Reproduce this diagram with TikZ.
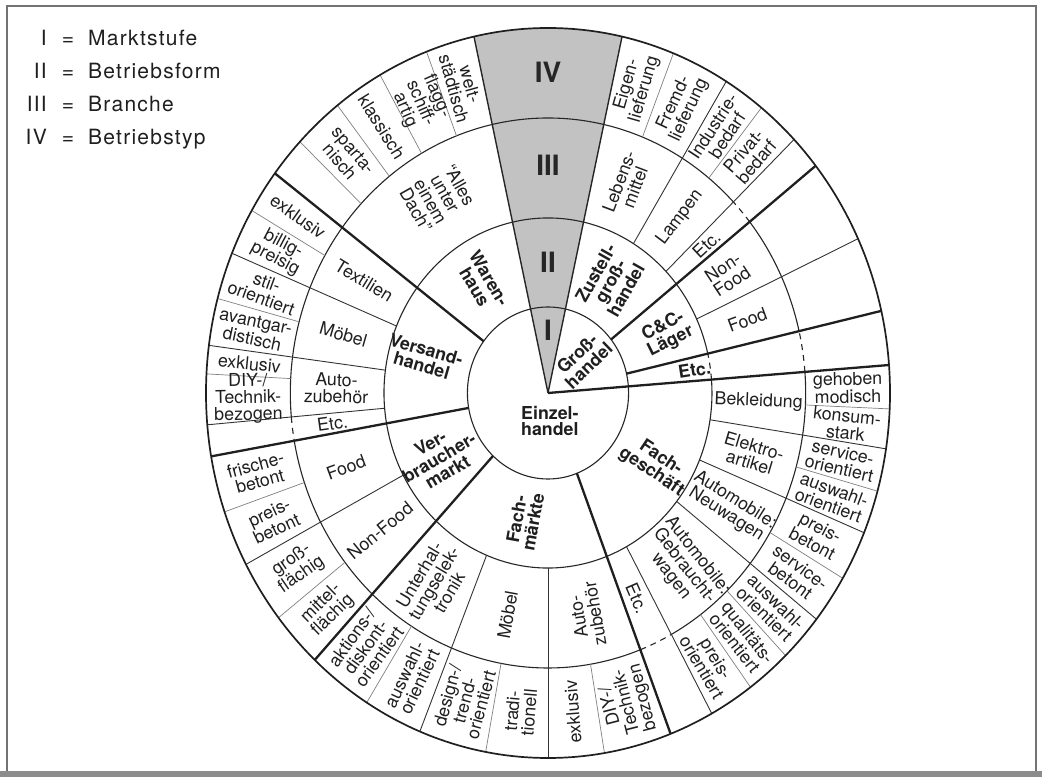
\documentclass[tikz,border=0pt]{standalone}
\usepackage{fontspec}
\setmainfont{TeX Gyre Heros}
\newcounter{lblno}
% label reading towards the centre / away from the centre, placed at (angle:radius)
\newcommand\inlab[4][lab]{%
  \pgfmathsetmacro\labrot{atan2(sin(#2),0.937*cos(#2))+180}%
  \stepcounter{lblno}%
  \node[#1,rotate=\labrot] (lbl\arabic{lblno}) at (#2:#3) {#4};}
\newcommand\outlab[4][lab]{%
  \pgfmathsetmacro\labrot{atan2(sin(#2),0.937*cos(#2))}%
  \stepcounter{lblno}%
  \node[#1,rotate=\labrot] (lbl\arabic{lblno}) at (#2:#3) {#4};}
% radial divider from radius #3 to radius #4 at angle #2
\newcommand\spoke[4][]{\draw[#1] (#2:#3) -- (#2:#4);}
% ring arc from angle #2 to #3 at radius #4
\newcommand\ringarc[4][]{\draw[#1] (#2:#4) arc[start angle=#2, end angle=#3, radius=#4];}
\begin{document}
\begin{tikzpicture}[x=1pt,y=1pt,
  lab/.style={align=center, font=\fontsize{17.8}{16.8}\selectfont, inner sep=0pt, text=black!88},
  blab/.style={lab, font=\fontsize{17.8}{16.8}\selectfont\bfseries},
  numlab/.style={inner sep=0pt, font=\fontsize{28}{28}\selectfont\bfseries, text=black!85},
  leg/.style={inner sep=0pt, font=\fontsize{21}{23}\selectfont\addfontfeatures{LetterSpace=6}, text=black!88},
  ringline/.style={line width=1.1pt, draw=black!85},
  dashline/.style={ringline, dash pattern=on 6pt off 5pt},
  thickline/.style={line width=2.3pt, draw=black!88},
  wedgeline/.style={line width=1.4pt, draw=black!85},
  midline/.style={line width=0.9pt, draw=black!80},
  thinline/.style={line width=0.7pt, draw=black!50},
  outerline/.style={line width=1.7pt, draw=black!88}]
\useasboundingbox (0,0) rectangle (1042,777);
\fill[white] (0,0) rectangle (1042,777);
% frame and shadow band
\fill[black!45] (0,0) rectangle (1042,6.5);
\draw[black!55, line width=1.3pt] (7,6.5) -- (7,771) -- (1036,771) -- (1036,6.5);

% legend
\node[leg, anchor=base east] (r1) at (47,731) {I};
\node[leg, anchor=base east] (r2) at (47,698) {II};
\node[leg, anchor=base east] (r3) at (47,665) {III};
\node[leg, anchor=base east] (r4) at (47,632) {IV};
\node[leg, anchor=base] (e1) at (68,731) {=};
\node[leg, anchor=base] (e2) at (68,698) {=};
\node[leg, anchor=base] (e3) at (68,665) {=};
\node[leg, anchor=base] (e4) at (68,632) {=};
\node[leg, anchor=base west] (t1) at (88,731) {Marktstufe};
\node[leg, anchor=base west] (t2) at (88,698) {Betriebsform};
\node[leg, anchor=base west] (t3) at (88,665) {Branche};
\node[leg, anchor=base west] (t4) at (88,632) {Betriebstyp};

\begin{scope}[shift={(548,384)}, xscale=0.937]
  % highlighted sector showing the four levels
  \fill[black!24] (0,0) -- (77.5:365) arc[start angle=77.5, end angle=102.5, radius=365] -- cycle;

  % ring boundaries
  \draw[ringline] (0,0) circle[radius=86];
  \ringarc[ringline]{13}{364.4}{175}
  \ringarc[dashline]{4.4}{13}{175}
  \ringarc[ringline]{13}{38.5}{275}
  \ringarc[dashline]{38.5}{44}{275}
  \ringarc[ringline]{44}{185}{275}
  \ringarc[dashline]{185}{190}{275}
  \ringarc[ringline]{190}{291}{275}
  \ringarc[dashline]{291}{298.6}{275}
  \ringarc[ringline]{298.6}{364.4}{275}
  \ringarc[dashline]{4.4}{13}{275}

  % level IV dividers
  \foreach \a in {110.8,119.4,128,136.5,150,165,177,199,218,238,259.5,279.5,
                  357.5,344.4,329.5,306.3,314,68.5,51.4}
    {\spoke[thinline]{\a}{275}{365}}
  % level III dividers
  \foreach \a in {157.5,172.5,185,208,248,270,351.2,337.5,321.7,298.6,58.6,44,25}
    {\spoke[midline]{\a}{175}{365}}
  % level II dividers
  \foreach \a in {143,190,227,291,38.5,13}
    {\spoke[thickline]{\a}{86}{365}}
  % level I divider and highlighted sector edges
  \spoke[thickline]{4.4}{0}{365}
  \spoke[wedgeline]{77.5}{0}{365}
  \spoke[wedgeline]{102.5}{0}{365}

  \draw[outerline] (0,0) circle[radius=365];

  % roman numerals in the highlighted sector
  \node[numlab] (n1) at (0,63) {I};
  \node[numlab] (n2) at (0,131) {II};
  \node[numlab] (n3) at (0,228) {III};
  \node[numlab] (n4) at (0,321) {IV};

  % level I
  \node[blab] (einzel) at (2,-28) {Einzel-\\handel};
  \outlab[blab]{42}{50}{Groß-\\handel}

  % level II
  \inlab[blab]{122.5}{131}{Waren-\\haus}
  \inlab[blab]{165}{137}{Versand-\\handel}
  \inlab[blab]{209}{133}{Ver-\\braucher-\\markt}
  \inlab[blab]{259}{130}{Fach-\\märkte}
  \outlab[blab]{328}{136}{Fach-\\geschäft}
  \outlab[blab]{59}{130}{Zustell-\\groß-\\handel}
  \outlab[blab]{25}{140}{C\&C-\\Läger}
  \outlab[blab]{8.4}{158}{Etc.}

  % level III
  \inlab{121}{228}{``Alles\\unter\\einem\\Dach''}
  \inlab{150.25}{226}{Textilien}
  \inlab{165}{226}{Möbel}
  \inlab{178.75}{226}{Auto-\\zubehör}
  \inlab{187.5}{232}{Etc.}
  \inlab{199}{228}{Food}
  \inlab{217.5}{226}{Non-Food}
  \inlab{237.5}{226}{Unterhal-\\tungselek-\\tronik}
  \inlab{259}{226}{Möbel}
  \inlab{280.5}{226}{Auto-\\zubehör}
  \outlab{294.8}{226}{Etc.}
  \outlab{310}{226}{Automobile:\\Gebraucht-\\wagen}
  \outlab{329.6}{226}{Automobile:\\Neuwagen}
  \outlab{344.3}{226}{Elektro-\\artikel}
  \outlab{357.8}{225}{Bekleidung}
  \outlab{68}{225}{Lebens-\\mittel}
  \outlab{51.3}{225}{Lampen}
  \outlab{41.25}{225}{Etc.}
  \outlab{31.75}{225}{Non-\\Food}
  \outlab{19}{225}{Food}

  % level IV
  \inlab{106.65}{320}{welt-\\städtisch}
  \inlab{115.1}{320}{flagg-\\schiff-\\artig}
  \inlab{123.7}{320}{klassisch}
  \inlab{132.25}{320}{sparta-\\nisch}
  \inlab{146.5}{320}{exklusiv}
  \inlab{153.75}{320}{billig-\\preisig}
  \inlab{161.25}{320}{stil-\\orientiert}
  \inlab{168.75}{320}{avantgar-\\distisch}
  \inlab{174.75}{320}{exklusiv}
  \inlab{181}{320}{DIY-/\\Technik-\\bezogen}
  \inlab{194.5}{320}{frische-\\betont}
  \inlab{203.5}{320}{preis-\\betont}
  \inlab{213}{320}{groß-\\flächig}
  \inlab{222.5}{320}{mittel-\\flächig}
  \inlab{232.5}{320}{aktions-/\\diskont-\\orientiert}
  \inlab{243}{320}{auswahl-\\orientiert}
  \inlab{253.75}{320}{design-/\\trend-\\orientiert}
  \inlab{264.75}{320}{tradi-\\tionell}
  \inlab{274.75}{320}{exklusiv}
  \inlab{285.25}{320}{DIY-/\\Technik-\\bezogen}
  \outlab{302.45}{320}{preis-\\orientiert}
  \outlab{310.15}{320}{qualitäts-\\orientiert}
  \outlab{317.85}{320}{auswahl-\\orientiert}
  \outlab{325.6}{320}{service-\\betont}
  \outlab{333.5}{320}{preis-\\betont}
  \outlab{340.95}{320}{auswahl-\\orientiert}
  \outlab{347.8}{320}{service-\\orientiert}
  \outlab{354.35}{320}{konsum-\\stark}
  \outlab{360.95}{320}{gehoben\\modisch}
  \outlab{73}{320}{Eigen-\\lieferung}
  \outlab{63.55}{320}{Fremd-\\lieferung}
  \outlab{55}{320}{Industrie-\\bedarf}
  \outlab{47.7}{320}{Privat-\\bedarf}
\end{scope}
\end{tikzpicture}
\end{document}
